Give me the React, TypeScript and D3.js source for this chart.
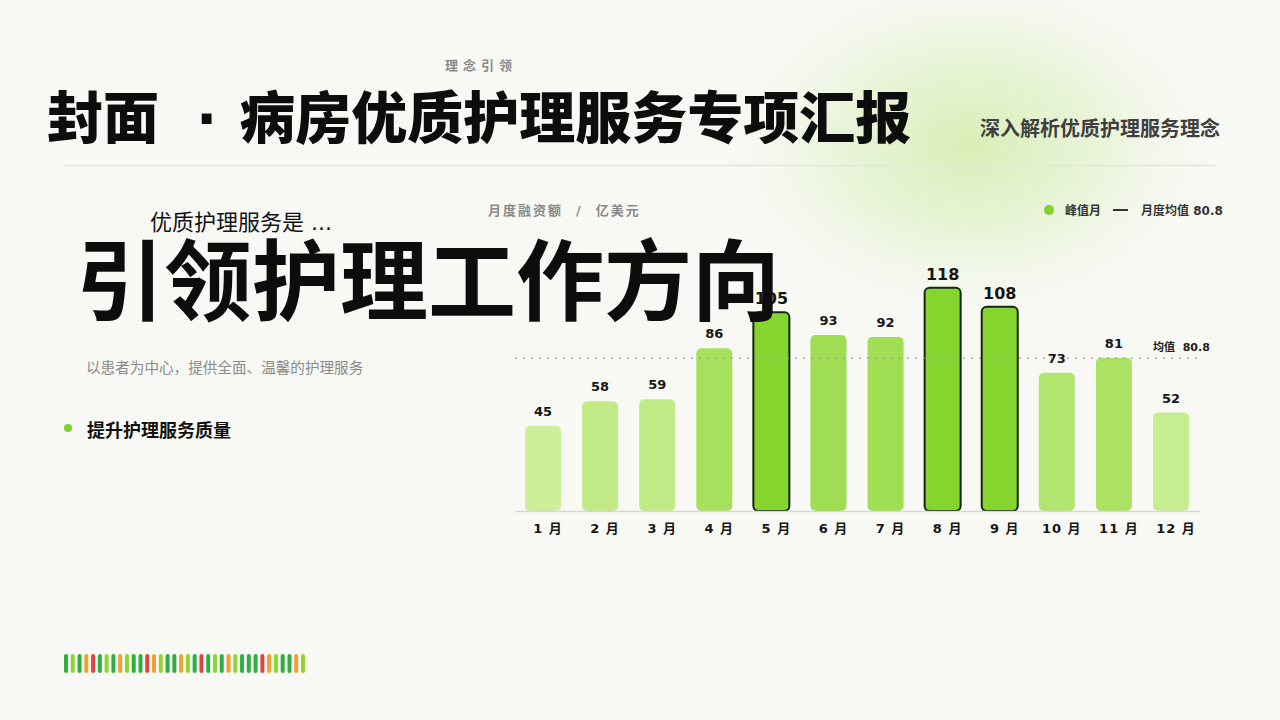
import React, { useEffect, useRef } from 'react';
import * as d3 from 'd3';

const months = ['1 月', '2 月', '3 月', '4 月', '5 月', '6 月', '7 月', '8 月', '9 月', '10 月', '11 月', '12 月'];
const values = [45, 58, 59, 86, 105, 93, 92, 118, 108, 73, 81, 52];
const peakMonths = ['5 月', '8 月', '9 月'];

// decorative strip at the bottom left
const stripKinds = ['g', 'l', 'g', 'o', 'r', 'g', 'l', 'g', 'o', 'l', 'g', 'g', 'r', 'o', 'l', 'g', 'g', 'o',
  'l', 'g', 'r', 'g', 'l', 'g', 'o', 'l', 'g', 'g', 'g', 'r', 'o', 'l', 'g', 'g', 'o', 'l'];
const stripColors: Record<string, string> = { g: '#2fae45', l: '#8fd62f', o: '#eea235', r: '#e0443f' };

const FONT = '"DejaVu Sans", "Noto Sans CJK SC", sans-serif';

const App: React.FC = () => {
  const svgRef = useRef<SVGSVGElement | null>(null);

  useEffect(() => {
    const width = 1280;
    const height = 720;
    const svg = d3.select(svgRef.current);
    svg.selectAll('*').remove();
    svg.attr('viewBox', [0, 0, width, height]).style('font-family', FONT);

    const defs = svg.append('defs');
    const grad = defs.append('radialGradient').attr('id', 'glow');
    grad.append('stop').attr('offset', '0%').attr('stop-color', '#d6eeb2').attr('stop-opacity', 0.95);
    grad.append('stop').attr('offset', '50%').attr('stop-color', '#e4f2cf').attr('stop-opacity', 0.7);
    grad.append('stop').attr('offset', '100%').attr('stop-color', '#f8f9f5').attr('stop-opacity', 0);

    svg.append('rect').attr('width', width).attr('height', height).attr('fill', '#f8f9f5');
    svg.append('ellipse')
      .attr('cx', 970).attr('cy', 145).attr('rx', 270).attr('ry', 190)
      .attr('fill', 'url(#glow)');

    // header
    svg.append('text')
      .attr('x', 481).attr('y', 70).attr('text-anchor', 'middle')
      .attr('font-size', 13).attr('font-weight', 700).attr('fill', '#8a8a8a')
      .attr('letter-spacing', 5)
      .text('理念引领');

    const title = svg.append('text')
      .attr('x', 47).attr('y', 138)
      .attr('font-size', 56).attr('font-weight', 900).attr('fill', '#0d0d0d');
    title.append('tspan').text('封面');
    title.append('tspan').attr('dx', 37).text('·');
    title.append('tspan').attr('dx', 22).text('病房优质护理服务专项汇报');

    svg.append('text')
      .attr('x', 1220).attr('y', 136).attr('text-anchor', 'end')
      .attr('font-size', 20).attr('font-weight', 700).attr('fill', '#3f3f3f')
      .text('深入解析优质护理服务理念');

    svg.append('line')
      .attr('x1', 64).attr('x2', 1216).attr('y1', 165.5).attr('y2', 165.5)
      .attr('stroke', '#e3e5df').attr('stroke-width', 1.5);

    // chart
    const x = d3.scalePoint<string>().domain(months).range([543, 1171]);
    const y = d3.scaleLinear().domain([0, 130]).range([511, 265]);
    const barW = 36;
    const avg = d3.mean(values)!;
    const color = d3.scaleLinear<string>()
      .domain([45, 93])
      .range(['#cdef9b', '#9fde52']);

    svg.append('text')
      .attr('x', 488).attr('y', 215)
      .attr('font-size', 13).attr('font-weight', 700).attr('fill', '#8a8a8a')
      .attr('letter-spacing', 2)
      .attr('xml:space', 'preserve')
      .text('月度融资额  /  亿美元');

    // legend
    const lg = svg.append('g').attr('font-size', 12).attr('font-weight', 700).attr('fill', '#333');
    lg.append('circle').attr('cx', 1049).attr('cy', 210).attr('r', 5).attr('fill', '#7fd32a');
    lg.append('text').attr('x', 1065).attr('y', 215).text('峰值月');
    lg.append('line').attr('x1', 1113).attr('x2', 1128).attr('y1', 210).attr('y2', 210)
      .attr('stroke', '#333').attr('stroke-width', 2);
    lg.append('text').attr('x', 1141).attr('y', 215).text(`月度均值 ${d3.format('.1f')(avg)}`);

    const bars = svg.append('g')
      .selectAll('g')
      .data(months.map((m, i) => ({ m, v: values[i], peak: peakMonths.includes(m) })))
      .join('g');

    bars.append('rect')
      .attr('x', d => x(d.m)! - barW / 2)
      .attr('y', d => y(d.v))
      .attr('width', barW)
      .attr('height', d => y(0) - y(d.v))
      .attr('rx', 5)
      .attr('fill', d => d.peak ? '#84d62e' : color(d.v))
      .attr('stroke', d => d.peak ? '#17240f' : 'none')
      .attr('stroke-width', 2);

    bars.append('text')
      .attr('x', d => x(d.m)!)
      .attr('y', d => y(d.v) - (d.peak ? 8 : 10))
      .attr('text-anchor', 'middle')
      .attr('font-size', d => d.peak ? 16 : 13)
      .attr('font-weight', 700)
      .attr('fill', '#161616')
      .text(d => d.v);

    // baseline + month labels
    svg.append('line')
      .attr('x1', 515).attr('x2', 1200).attr('y1', y(0) + 0.5).attr('y2', y(0) + 0.5)
      .attr('stroke', '#d6d8d2').attr('stroke-width', 1.5);

    svg.append('g')
      .selectAll('text')
      .data(months)
      .join('text')
      .attr('x', d => x(d)!)
      .attr('dx', 5)
      .attr('y', 533)
      .attr('text-anchor', 'middle')
      .attr('font-size', 13)
      .attr('font-weight', 700)
      .attr('fill', '#161616')
      .attr('letter-spacing', 1)
      .attr('xml:space', 'preserve')
      .text(d => d);

    // average line
    svg.append('line')
      .attr('x1', 515).attr('x2', 1200).attr('y1', y(avg)).attr('y2', y(avg))
      .attr('stroke', '#9a9a9a').attr('stroke-width', 1.2).attr('stroke-dasharray', '2,6');
    svg.append('text')
      .attr('x', 1153).attr('y', y(avg) - 7)
      .attr('font-size', 11).attr('font-weight', 700).attr('fill', '#1e1e1e')
      .attr('xml:space', 'preserve')
      .text(`均值  ${d3.format('.1f')(avg)}`);

    // left block (drawn on top of chart)
    svg.append('text')
      .attr('x', 150).attr('y', 230)
      .attr('font-size', 22).attr('fill', '#111')
      .text('优质护理服务是 ...');

    svg.append('text')
      .attr('x', 76).attr('y', 313)
      .attr('font-size', 88).attr('font-weight', 700).attr('fill', '#0d0d0d')
      .text('引领护理工作方向');

    svg.append('text')
      .attr('x', 86).attr('y', 373)
      .attr('font-size', 14.6).attr('fill', '#8a8a8a')
      .text('以患者为中心，提供全面、温馨的护理服务');

    svg.append('circle').attr('cx', 68).attr('cy', 428).attr('r', 4).attr('fill', '#7fd32a');
    svg.append('text')
      .attr('x', 87).attr('y', 437)
      .attr('font-size', 18).attr('font-weight', 700).attr('fill', '#111')
      .text('提升护理服务质量');

    // bottom strip
    const sx = d3.scaleLinear().domain([0, stripKinds.length - 1]).range([64, 301]);
    svg.append('g')
      .selectAll('rect')
      .data(stripKinds)
      .join('rect')
      .attr('x', (_, i) => sx(i))
      .attr('y', 654)
      .attr('width', 4)
      .attr('height', 19)
      .attr('rx', 2)
      .attr('fill', d => stripColors[d]);
  }, []);

  return (
    <div style={{ position: 'fixed', left: 0, top: 0, width: 1280, height: 720 }}>
      <svg ref={svgRef} width={1280} height={720} style={{ display: 'block' }}></svg>
    </div>
  );
};

export default App;
